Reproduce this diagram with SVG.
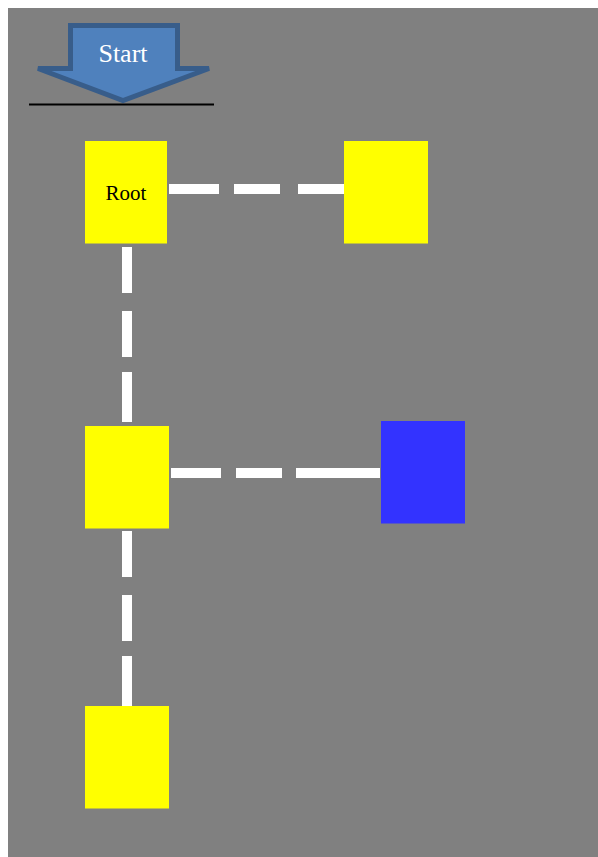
<svg xmlns="http://www.w3.org/2000/svg" width="598" height="857" viewBox="0 0 598 857">
<style>
.node{fill:#FFFF00}
.blue{fill:#3333FF}
.conn{stroke:#FFFFFF;stroke-width:10;fill:none;stroke-linecap:butt}
.lbl{font-family:"Liberation Serif","Times New Roman",serif;text-anchor:middle}
</style>
<rect x="0" y="0" width="598" height="857" fill="#FFFFFF"/>
<rect x="8" y="8" width="590" height="849" fill="#808080"/>
<g id="start">
<polygon points="70.5,25.5 177.5,25.5 177.5,68.5 209,68.5 123,100.5 38,68.5 70.5,68.5" fill="#4F81BD" stroke="#385D8A" stroke-width="5" stroke-linejoin="miter" stroke-miterlimit="2"/>
<text class="lbl" x="123" y="62" font-size="26" fill="#FFFFFF">Start</text>
<line x1="29" y1="104.5" x2="214" y2="104.5" stroke="#000000" stroke-width="2"/>
</g>
<g id="connectors">
<path class="conn" d="M169 189 H344" stroke-dasharray="50 15 46 18 46 100"/>
<path class="conn" d="M127 247 V422" stroke-dasharray="46 18 46 15 50 100"/>
<path class="conn" d="M171 473 H380" stroke-dasharray="50 15 46 14 84 100"/>
<path class="conn" d="M127 531 V706" stroke-dasharray="46 18 46 15 50 100"/>
</g>
<g id="root">
<rect class="node" x="85" y="141" width="82" height="102.5"/>
<text class="lbl" x="126" y="200" font-size="21" fill="#000000">Root</text>
</g>
<g id="node-right1">
<rect class="node" x="344" y="141" width="84" height="102.5"/>
</g>
<g id="node-mid">
<rect class="node" x="85" y="426" width="84" height="102.5"/>
</g>
<g id="node-blue">
<rect class="blue" x="381" y="421" width="84" height="102.5"/>
</g>
<g id="node-bottom">
<rect class="node" x="85" y="706" width="84" height="102.5"/>
</g>
</svg>
